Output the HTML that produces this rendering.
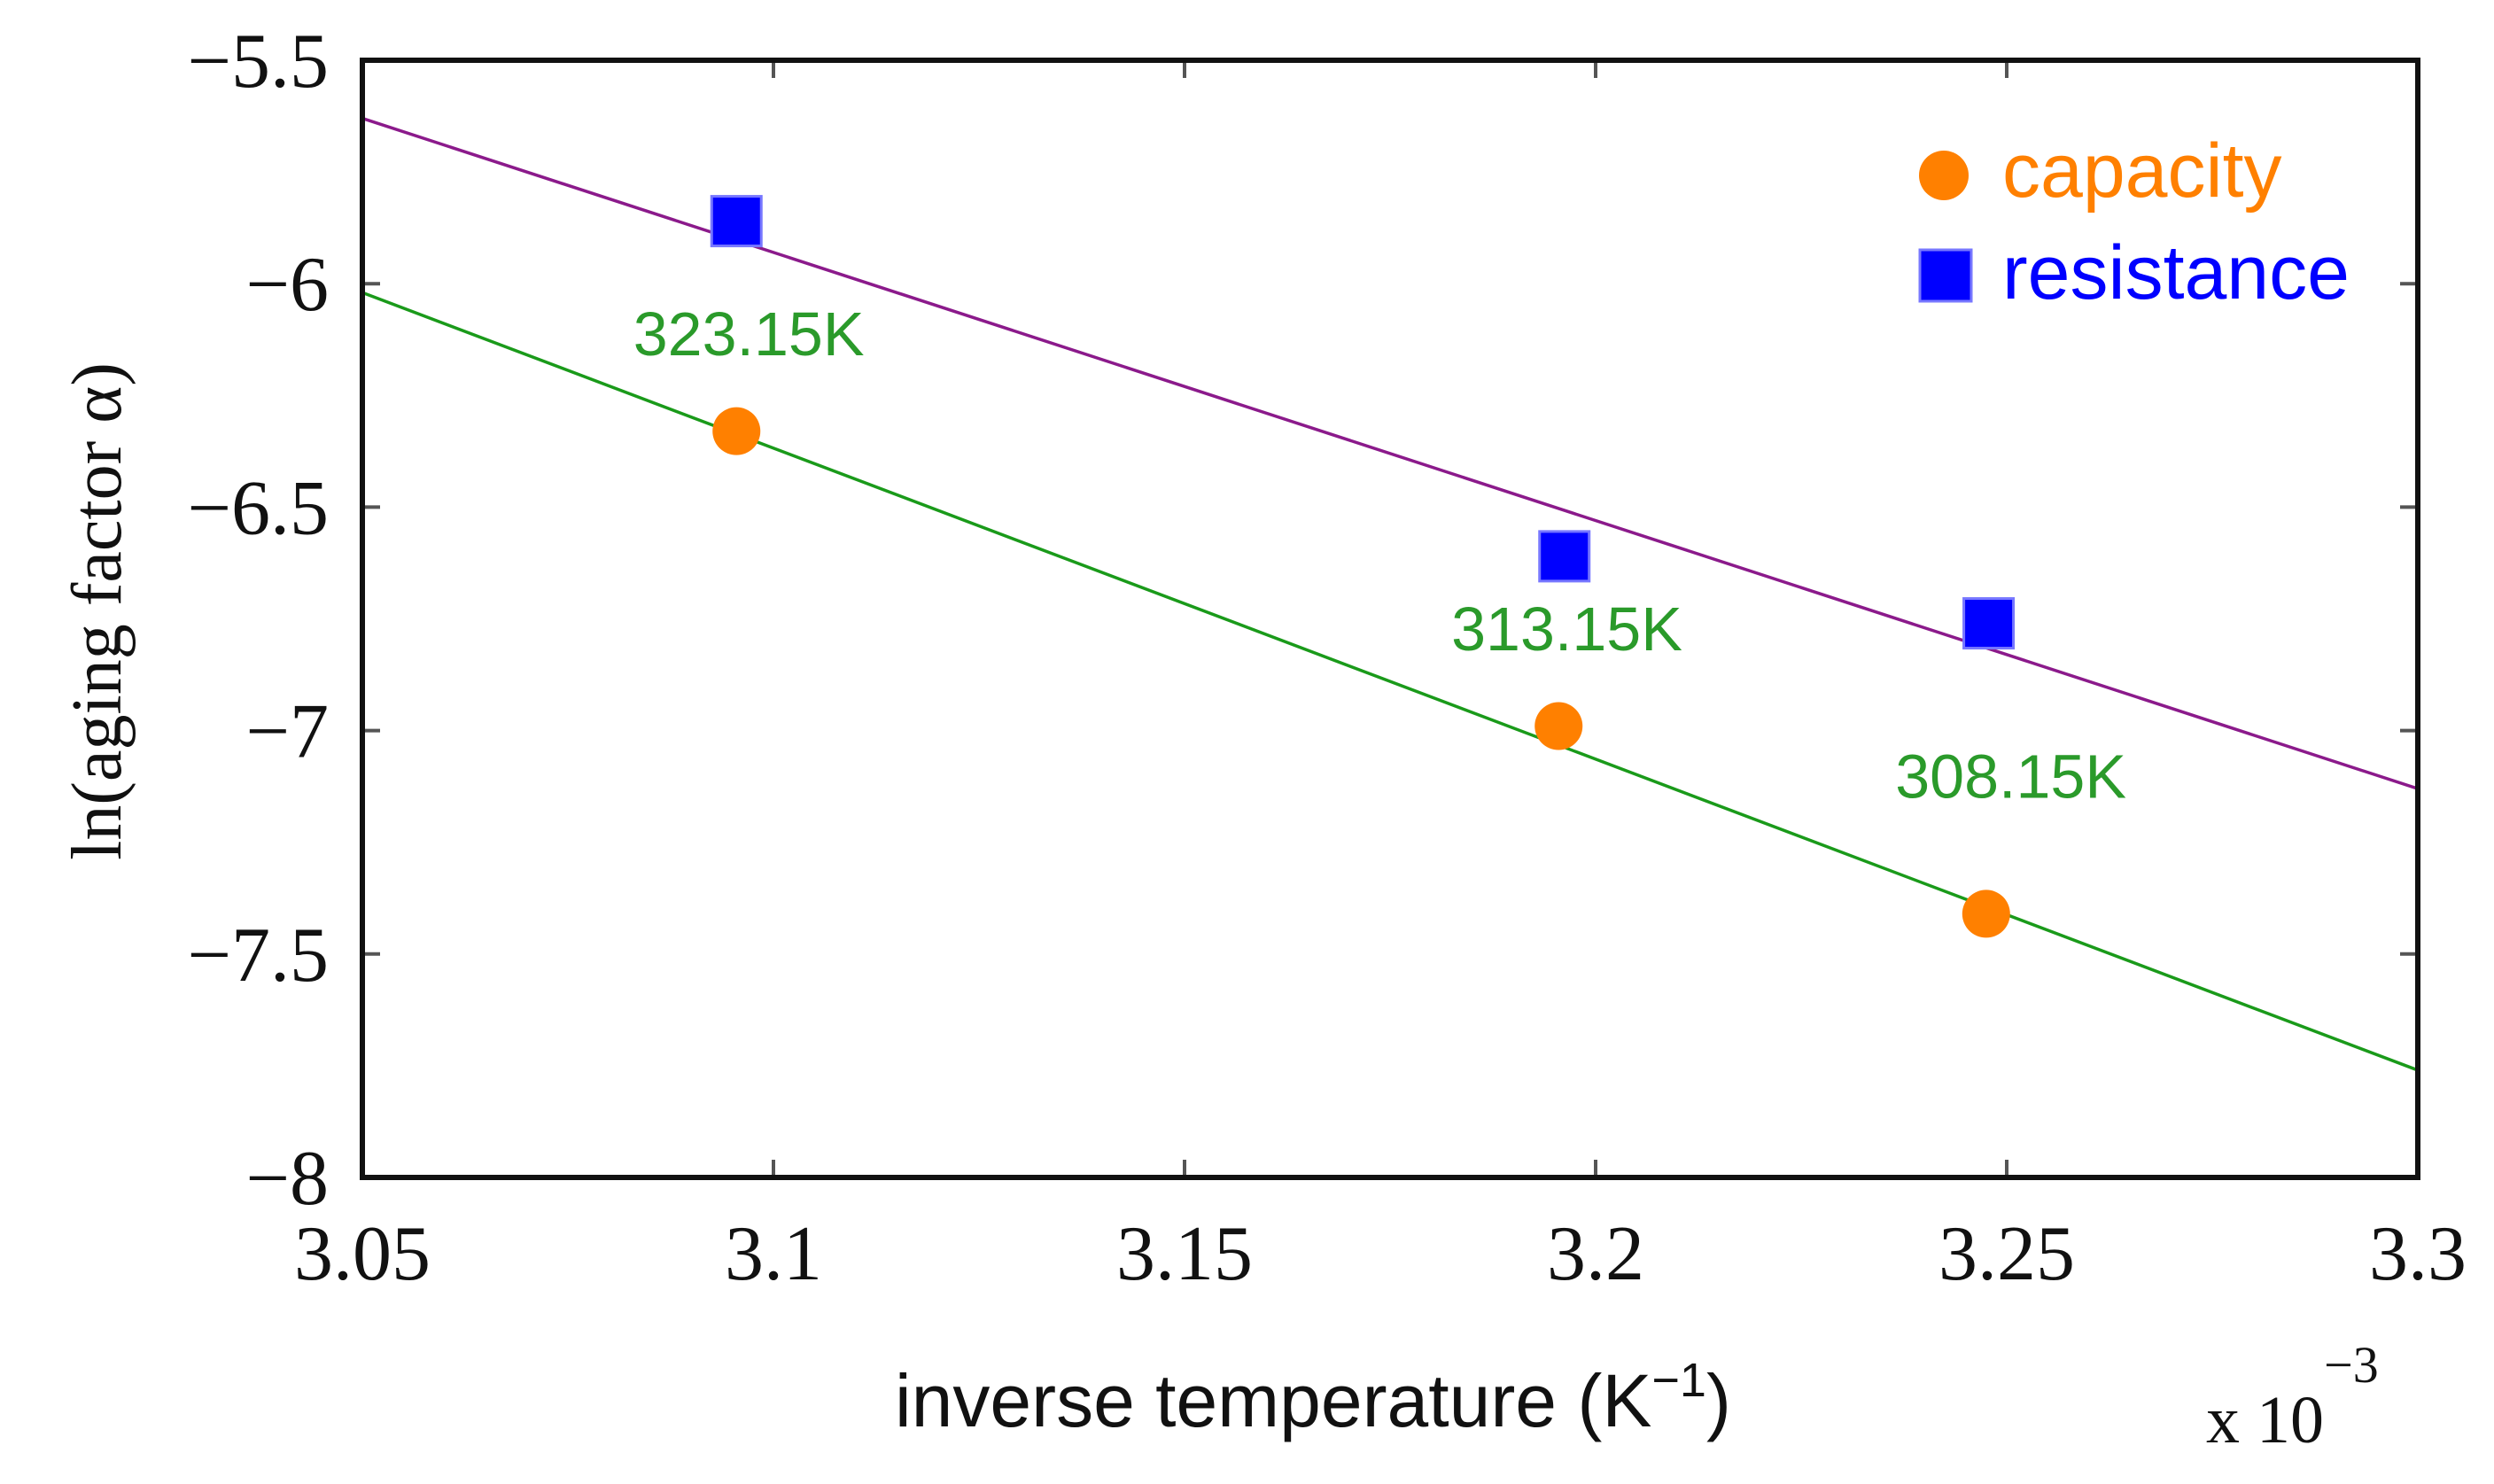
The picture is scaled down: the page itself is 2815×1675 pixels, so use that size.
<!DOCTYPE html>
<html><head><meta charset="utf-8"><style>
html,body{margin:0;padding:0;background:#fff;}
svg{display:block;}
</style></head><body>
<svg id="chart" width="2815" height="1675" viewBox="0 0 2815 1675" xmlns="http://www.w3.org/2000/svg">
<g id="plot"></g>
</svg>
<script>
const xTicks = [3.05, 3.1, 3.15, 3.2, 3.25, 3.3];
const xTickLabels = ["3.05", "3.1", "3.15", "3.2", "3.25", "3.3"];
const yTicks = [-5.5, -6, -6.5, -7, -7.5, -8];
const yTickLabels = ["\u22125.5", "\u22126", "\u22126.5", "\u22127", "\u22127.5", "\u22128"];
const capX = [3.0955, 3.1955, 3.2475];
const capY = [-6.33, -6.99, -7.41];
const resX = [3.0955, 3.1962, 3.2478];
const resY = [-5.86, -6.61, -6.76];
const tempLabels = ["323.15K", "313.15K", "308.15K"];
const tempLabelX = [3.097, 3.1965, 3.2505];
const tempLabelY = [-6.16, -6.82, -7.15];
const resFitX = [3.05, 3.3];
const resFitY = [-5.63, -7.13];
const capFitX = [3.05, 3.3];
const capFitY = [-6.02, -7.76];

const L = 409, R = 2729, T = 68, B = 1329;
const xMin = 3.05, xMax = 3.3, yMin = -8, yMax = -5.5;
const sx = v => L + (v - xMin) / (xMax - xMin) * (R - L);
const sy = v => B - (v - yMin) / (yMax - yMin) * (B - T);
const NS = "http://www.w3.org/2000/svg";
const g = document.getElementById("plot");
function mk(tag, attrs, parent) {
  const e = document.createElementNS(NS, tag);
  for (const k in attrs) e.setAttribute(k, attrs[k]);
  (parent || g).appendChild(e);
  return e;
}
const serif = '"Liberation Serif", "DejaVu Serif", serif';
const sans = '"Liberation Sans", "DejaVu Sans", sans-serif';

xTicks.forEach((v, i) => {
  const x = sx(v);
  const t1 = mk("line", {x1: x, x2: x, y1: B, y2: B - 20, stroke: "#555", "stroke-width": 4});
  
  
  const t2 = mk("line", {x1: x, x2: x, y1: T, y2: T + 20, stroke: "#555", "stroke-width": 4});
  
  
  const lb = mk("text", {x: x, y: B + 115, "font-family": serif, "font-size": 88, "text-anchor": "middle", fill: "#111"});
  lb.textContent = xTickLabels[i];
  
  
});
yTicks.forEach((v, i) => {
  const y = sy(v);
  const t1 = mk("line", {x1: L, x2: L + 20, y1: y, y2: y, stroke: "#555", "stroke-width": 4});
  
  
  const t2 = mk("line", {x1: R, x2: R - 20, y1: y, y2: y, stroke: "#555", "stroke-width": 4});
  
  
  const lb = mk("text", {x: L - 38, y: y + 30, "font-family": serif, "font-size": 88, "text-anchor": "end", fill: "#111"});
  lb.textContent = yTickLabels[i];
  
  
});

const rl = mk("line", {x1: sx(resFitX[0]), y1: sy(resFitY[0]), x2: sx(resFitX[1]), y2: sy(resFitY[1]), stroke: "#8b1a8b", "stroke-width": 3.5});


const cl = mk("line", {x1: sx(capFitX[0]), y1: sy(capFitY[0]), x2: sx(capFitX[1]), y2: sy(capFitY[1]), stroke: "#1a9a1a", "stroke-width": 3.5});



const fr = mk("rect", {x: L, y: T, width: R - L, height: B - T, fill: "none", stroke: "#111", "stroke-width": 6});



capX.forEach((v, i) => {
  const c = mk("circle", {cx: sx(v), cy: sy(capY[i]), r: 27, fill: "#ff8000"});
  
  
});
resX.forEach((v, i) => {
  const s = mk("rect", {x: sx(v) - 28, y: sy(resY[i]) - 28, width: 56, height: 56, fill: "#0000ff", stroke: "#7777ff", "stroke-width": 3});
  
  
});

tempLabels.forEach((t, i) => {
  const a = mk("text", {x: sx(tempLabelX[i]), y: sy(tempLabelY[i]), "font-family": sans, "font-size": 70, "text-anchor": "middle", fill: "#2a9a2a"});
  a.textContent = t;
  
  
});

const lc = mk("circle", {cx: 2194, cy: 198, r: 28, fill: "#ff8000"});


const lt1 = mk("text", {x: 2260, y: 222, "font-family": sans, "font-size": 86, fill: "#ff8000"});
lt1.textContent = "capacity";


const ls = mk("rect", {x: 2167, y: 282, width: 58, height: 58, fill: "#0000ff", stroke: "#7777ff", "stroke-width": 3});


const lt2 = mk("text", {x: 2260, y: 337, "font-family": sans, "font-size": 86, fill: "#0000ff"});
lt2.textContent = "resistance";



const xt = mk("text", {x: 1010, y: 1610, "font-family": sans, "font-size": 84, fill: "#111"});
xt.innerHTML = 'inverse temperature  (K<tspan dy="-34" font-size="54">\u22121</tspan><tspan dy="34">)</tspan>';


const xm = mk("text", {x: 2490, y: 1628, "font-family": serif, "font-size": 76, fill: "#111"});
xm.innerHTML = 'x 10<tspan dy="-68" font-size="58">\u22123</tspan>';


const yt = mk("text", {x: 0, y: 0, "font-family": serif, "font-size": 80, fill: "#111", "text-anchor": "middle", transform: "translate(136 690) rotate(-90)"});
yt.textContent = "ln(aging factor \u03b1)";


</script>
</body></html>
